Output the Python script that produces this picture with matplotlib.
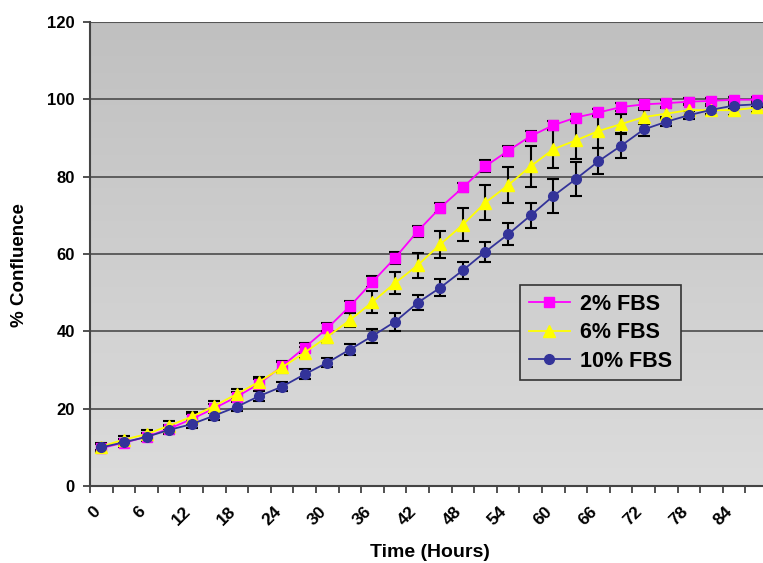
import numpy as np
import matplotlib
matplotlib.use('Agg')
import matplotlib.pyplot as plt
from matplotlib.colors import LinearSegmentedColormap
import matplotlib.transforms as mtransforms

plt.rcParams['font.family'] = ['Liberation Sans', 'DejaVu Sans']

# time points (hours), one category every 3 h
hours = [0, 3, 6, 9, 12, 15, 18, 21, 24, 27, 30, 33, 36, 39, 42,
         45, 48, 51, 54, 57, 60, 63, 66, 69, 72, 75, 78, 81, 84, 87]

fbs2 = [9.8, 11.2, 12.7, 14.8, 17.3, 20.1, 23.1, 26.5, 31.0, 35.8,
        40.8, 46.5, 52.8, 59.0, 65.9, 72.0, 77.2, 82.7, 86.7, 90.5,
        93.3, 95.3, 96.6, 98.0, 98.7, 99.0, 99.4, 99.6, 99.9, 99.9]
fbs2_err = [1.0, 1.0, 1.0, 1.1, 1.2, 1.2, 1.2, 1.2, 1.3, 1.3,
            1.3, 1.4, 1.4, 1.5, 1.4, 1.3, 1.2, 1.6, 1.3, 1.3,
            1.2, 1.0, 1.0, 1.0, 1.0, 0.9, 0.9, 0.8, 0.8, 0.8]

fbs6 = [10.2, 12.0, 13.4, 15.6, 17.9, 20.7, 23.8, 27.0, 30.7, 34.5,
        38.6, 42.9, 47.6, 52.5, 57.1, 62.5, 67.6, 73.3, 77.8, 82.7,
        87.1, 89.4, 91.8, 93.6, 95.4, 96.3, 97.2, 97.2, 97.2, 97.9]
fbs6_err = [1.0, 1.0, 1.1, 1.1, 1.2, 1.3, 1.3, 1.3, 1.4, 1.4,
            1.5, 1.9, 2.9, 2.9, 3.2, 3.5, 4.3, 4.6, 4.7, 5.3,
            4.9, 4.9, 4.5, 2.5, 1.8, 1.5, 1.5, 1.3, 1.3, 1.2]

fbs10 = [10.0, 11.3, 12.7, 14.5, 16.0, 18.2, 20.5, 23.3, 25.7, 28.9,
         31.9, 35.3, 38.8, 42.5, 47.4, 51.3, 55.8, 60.6, 65.1, 70.0,
         75.0, 79.4, 84.0, 88.0, 92.2, 94.2, 95.9, 97.3, 98.4, 98.7]
fbs10_err = [0.8, 0.9, 1.0, 1.0, 1.1, 1.1, 1.2, 1.2, 1.2, 1.3,
             1.2, 1.5, 1.9, 2.3, 2.0, 2.2, 2.2, 2.6, 2.9, 3.3,
             4.3, 4.4, 3.4, 3.2, 1.6, 1.2, 1.0, 1.0, 0.9, 0.8]

series = [
    ('2% FBS', fbs2, fbs2_err, '#FF00FF', 's', 7),
    ('6% FBS', fbs6, fbs6_err, '#FFFF00', '^', 8),
    ('10% FBS', fbs10, fbs10_err, '#333399', 'o', 7),
]

fig = plt.figure(figsize=(7.63, 5.63), dpi=100)
fig.patch.set_facecolor('white')
ax = fig.add_axes([90/763, 77/563, 678/763, 464/563])

# gradient background
grad = np.linspace(0, 1, 256).reshape(-1, 1)
cmap = LinearSegmentedColormap.from_list('bg', ['#DCDCDC', '#C0C0C0'])
ax.imshow(grad, extent=[0, 1, 0, 1], transform=ax.transAxes, aspect='auto',
          cmap=cmap, origin='lower', zorder=0)

xpos = np.arange(len(hours)) + 0.5

for name, vals, err, col, mk, ms in series:
    ax.errorbar(xpos, vals, yerr=err, fmt='none', ecolor='black',
                elinewidth=1.5, capsize=4, capthick=1.5, zorder=3)
    ax.plot(xpos, vals, color=col, lw=1.3, marker=mk, ms=ms,
            mfc=col, mec=col, label=name, zorder=4)

ax.set_xlim(0, len(hours))
ax.set_ylim(0, 120)
ax.set_yticks(np.arange(0, 121, 20))
ax.yaxis.grid(True, color='#555555', lw=1.3)
ax.set_axisbelow(True)
for gl in ax.get_ygridlines():
    gl.set_zorder(1)

ax.set_xticks(xpos[::2])
ax.set_xticklabels([str(h) for h in hours[::2]], rotation=45, ha='right',
                   rotation_mode='anchor', fontsize=12.5, fontweight='bold')
ax.set_xticks(np.arange(0, len(hours) + 1), minor=True)
ax.tick_params(axis='x', which='major', length=0, pad=13)
ax.tick_params(axis='x', which='minor', length=5, direction='out',
               color='#333333', width=1.2)
offset = mtransforms.ScaledTranslation(-9/100, 0, fig.dpi_scale_trans)
for lab in ax.get_xticklabels():
    lab.set_transform(lab.get_transform() + offset)

ax.tick_params(axis='y', length=5, direction='out', color='#333333',
               width=1.2, labelsize=12, pad=6)
for lab in ax.get_yticklabels():
    lab.set_fontweight('bold')

for s in ['top', 'right']:
    ax.spines[s].set_visible(False)
ax.spines['left'].set_color('#444444')
ax.spines['left'].set_linewidth(1.5)
ax.spines['bottom'].set_color('#444444')
ax.spines['bottom'].set_linewidth(1.5)
ax.axhline(120, color='#555555', lw=1.5, zorder=2)

ax.set_xlabel('Time (Hours)', fontsize=14, fontweight='bold')
ax.xaxis.set_label_coords((430 - 90) / 678, -(544 - 486) / 464)
ax.set_ylabel('% Confluence', fontsize=13.5, fontweight='bold')
ax.yaxis.set_label_coords(-(90 - 28) / 678, (486 - 265) / 464)

leg = ax.legend(loc='upper left', bbox_to_anchor=((520 - 90) / 678, (486 - 285) / 464),
                prop={'size': 15.5, 'weight': 'bold'}, frameon=True, fancybox=False,
                handlelength=1.9, borderpad=0.4, labelspacing=0.35,
                handletextpad=0.5, borderaxespad=0)
leg.get_frame().set_facecolor('#D0D0D0')
leg.get_frame().set_edgecolor('#333333')
leg.get_frame().set_linewidth(1.2)
leg.get_frame().set_alpha(1)
leg.set_zorder(6)

fig.savefig('out.png', dpi=100)
